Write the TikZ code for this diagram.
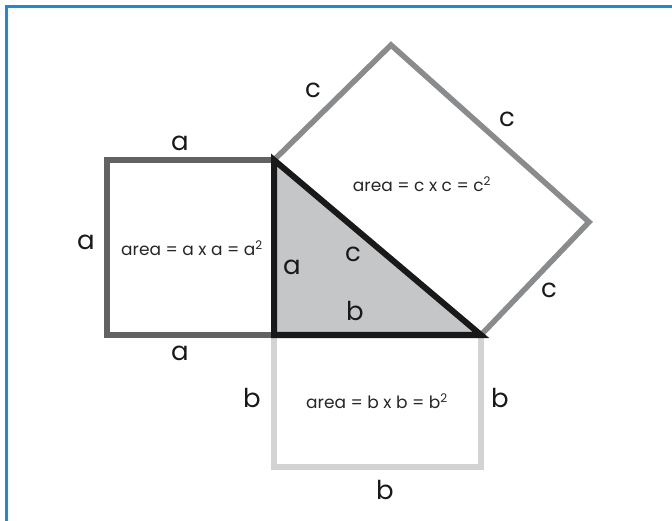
\documentclass[tikz,border=0pt]{standalone}
\usepackage{fontspec}
\setmainfont{Poppins}
\definecolor{frameblue}{HTML}{1B8BD3}
\definecolor{sqa}{HTML}{626264}
\definecolor{sqb}{HTML}{D3D3D5}
\definecolor{sqc}{HTML}{8A8B8D}
\definecolor{trifill}{HTML}{C5C6C8}
\begin{document}
\begin{tikzpicture}[x=1pt,y=-1pt,
  side/.style={font=\fontsize{26}{28}\selectfont, text=black!90, inner sep=0pt},
  arealbl/.style={font=\fontsize{17}{19}\selectfont, text=black!85, inner sep=0pt},
  edge/.style={line width=5.5pt, line join=miter}]
\useasboundingbox (0,0) rectangle (672,521);
% frame
\draw[frameblue, line width=3pt] (6,521) -- (6,7) -- (672,7);
% vertices
\coordinate (A) at (274,160);
\coordinate (C) at (274,335);
\coordinate (B) at (481,335);
\coordinate (T) at (391,45);
\coordinate (R) at (589,222);
\coordinate (AL) at (107,160);
\coordinate (CL) at (107,335);
\coordinate (CB) at (274,467);
\coordinate (BB) at (481,467);
% squares
\draw[edge, sqc] (A) -- (T) -- (R) -- (B);
\draw[edge, sqb] (C) -- (CB) -- (BB) -- (B);
\draw[edge, sqa] (A) -- (AL) -- (CL) -- (C);
% triangle
\draw[line width=6pt, line join=miter, fill=trifill, draw=black!90] (A) -- (C) -- (B) -- cycle;
% labels
\node[side] (la1) at (180,143) {a};
\node[side] (la2) at (86,242) {a};
\node[side] (la3) at (180,353) {a};
\node[side] (la4) at (292,267) {a};
\node[side] (lc1) at (353,254) {c};
\node[side] (lb1) at (355,311) {b};
\node[side] (lc2) at (313,90) {c};
\node[side] (lc3) at (507,119) {c};
\node[side] (lc4) at (549,290) {c};
\node[side] (lb2) at (252,398) {b};
\node[side] (lb3) at (500,398) {b};
\node[side] (lb4) at (385,490) {b};
\node[arealbl] (aa) at (192,248) {area = a x a = a\textsuperscript{2}};
\node[arealbl] (ac) at (422,184) {area = c x c = c\textsuperscript{2}};
\node[arealbl] (ab) at (377,401) {area = b x b = b\textsuperscript{2}};
\end{tikzpicture}
\end{document}
